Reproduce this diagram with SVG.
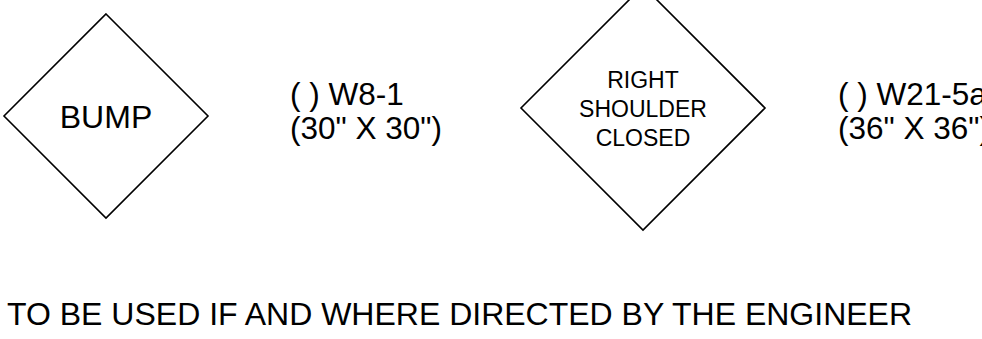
<svg xmlns="http://www.w3.org/2000/svg" width="982" height="339" viewBox="0 0 982 339">
<style>
.sign{fill:#fff;stroke:#000;stroke-width:1.6}
text{font-family:"Liberation Sans",Arial,Helvetica,sans-serif;fill:#000}
.c{text-anchor:middle}
.lbl{font-size:31.5px}
</style>
<rect width="982" height="339" fill="#fff"/>
<g id="sign-w8-1">
<polygon class="sign" points="106,14 208,116 106,218 4,116"/>
<text class="c" x="106" y="128" font-size="32">BUMP</text>
</g>
<g id="label-w8-1">
<text class="lbl" x="290" y="105">( ) W8-1</text>
<text class="lbl" x="290" y="139">(30" X 30")</text>
</g>
<g id="sign-w21-5a">
<polygon class="sign" points="643,-14 765,108 643,230 521,108"/>
<text class="c" x="643" y="88" font-size="23">RIGHT</text>
<text class="c" x="643" y="117" font-size="23">SHOULDER</text>
<text class="c" x="643" y="146" font-size="23">CLOSED</text>
</g>
<g id="label-w21-5a">
<text class="lbl" x="838" y="105">( ) W21-5a</text>
<text class="lbl" x="838" y="139">(36" X 36")</text>
</g>
<g id="note">
<text x="7" y="325" font-size="32">TO BE USED IF AND WHERE DIRECTED BY THE ENGINEER</text>
</g>
<g id="connectors"></g>
</svg>
